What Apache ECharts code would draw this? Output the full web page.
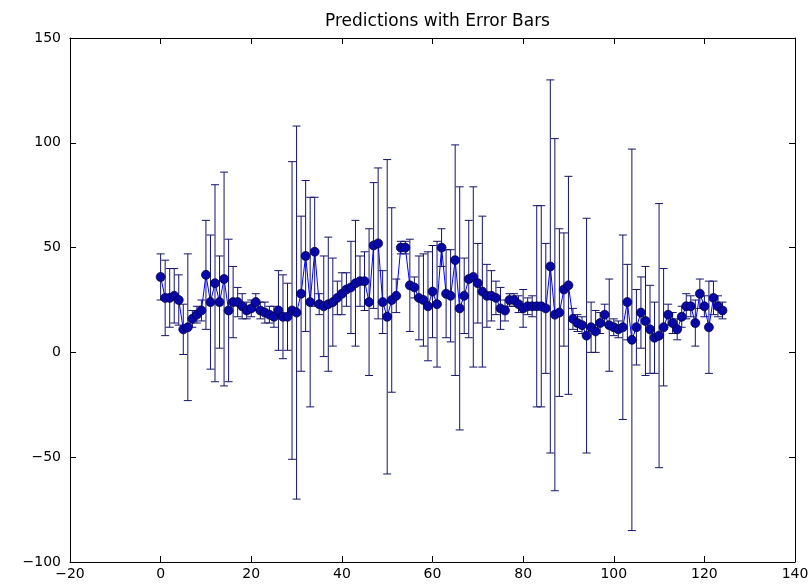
<!DOCTYPE html>
<html><head><meta charset="utf-8">
<script src="https://cdn.jsdelivr.net/npm/echarts@6/dist/echarts.min.js"></script>
<style>html,body{margin:0;padding:0;background:#fff}#c{width:812px;height:588px}</style>
</head><body><div id="c"></div>
<script>
const TITLE = 'Predictions with Error Bars';
const xTicks = [-20, 0, 20, 40, 60, 80, 100, 120, 140];
const yTicks = [-100, -50, 0, 50, 100, 150];

// predicted values, one per sample index 0..124
const predictions = [
  36, 26, 26, 27, 25, 11, 12, 16, 18, 20,
  37, 24, 33, 24, 35, 20, 24, 24, 22, 20,
  21, 24, 20, 19, 18, 17, 20, 17, 17, 20,
  19, 28, 46, 24, 48, 23, 22, 23, 24, 26,
  28, 30, 31, 33, 34, 34, 24, 51, 52, 24,
  17, 25, 27, 50, 50, 32, 31, 26, 25, 22,
  29, 23, 50, 28, 27, 44, 21, 27, 35, 36,
  33, 29, 27, 27, 26, 21, 20, 25, 25, 23,
  21, 22, 22, 22, 22, 21, 41, 18, 19, 30,
  32, 16, 14, 13, 8, 12, 10, 14, 18, 13,
  12, 11, 12, 24, 6, 12, 19, 15, 11, 7,
  8, 12, 18, 14, 11, 17, 22, 22, 14, 28,
  22, 12, 26, 22, 20
];
// half-widths of the error bars
const errors = [
  11, 18, 14, 13, 12, 12, 35, 4, 4, 5,
  26, 32, 47, 22, 51, 34, 17, 7, 6, 4,
  4, 4, 4, 5, 4, 5, 19, 20, 16, 71,
  89, 37, 36, 50, 26, 5, 24, 32, 21, 8,
  10, 8, 22, 30, 12, 14, 35, 30, 36, 15,
  75, 44, 8, 3, 3, 22, 5, 20, 22, 26,
  22, 30, 9, 21, 22, 55, 58, 18, 28, 43,
  19, 36, 15, 12, 8, 10, 5, 3, 3, 4,
  9, 4, 5, 48, 48, 31, 89, 84, 40, 27,
  52, 5, 4, 4, 56, 12, 10, 5, 5, 22,
  4, 4, 44, 18, 91, 18, 17, 26, 21, 17,
  63, 28, 5, 5, 5, 5, 6, 5, 11, 7,
  5, 22, 8, 5, 4
];

const lineData = predictions.map((v, i) => [i, v]);
const errData = predictions.map((v, i) => [i, v - errors[i], v + errors[i]]);

const ERR_COLOR = '#14146a';
const FONT = 'DejaVu Sans';
const minusFmt = v => String(v).replace('-', '\u2212');

const chart = echarts.init(document.getElementById('c'), null, {renderer: 'canvas'});

function axisCommon(show, margin) {
  return {
    axisLine: {show: true, onZero: false, lineStyle: {color: '#000', width: 1}},
    axisTick: {show: true, inside: true, length: 6, lineStyle: {color: '#000', width: 1}},
    splitLine: {show: false},
    axisLabel: {show: show, color: '#000', fontSize: 14, fontFamily: FONT, margin: margin, formatter: minusFmt}
  };
}

const option = {
  animation: false,
  backgroundColor: '#fff',
  title: {
    text: TITLE, left: 432.5, top: 8, textAlign: 'center',
    textStyle: {fontFamily: FONT, fontSize: 17, fontWeight: 'normal', color: '#000'}
  },
  grid: {left: 70, top: 38, width: 725, height: 524},
  xAxis: [
    Object.assign({type: 'value', position: 'bottom', min: xTicks[0], max: xTicks[xTicks.length - 1], interval: 20}, axisCommon(true, 5)),
    Object.assign({type: 'value', position: 'top', min: xTicks[0], max: xTicks[xTicks.length - 1], interval: 20}, axisCommon(false, 5))
  ],
  yAxis: [
    Object.assign({type: 'value', position: 'left', min: yTicks[0], max: yTicks[yTicks.length - 1], interval: 50}, axisCommon(true, 9)),
    Object.assign({type: 'value', position: 'right', min: yTicks[0], max: yTicks[yTicks.length - 1], interval: 50}, axisCommon(false, 9))
  ],
  series: [
    {
      type: 'custom',
      xAxisIndex: 0, yAxisIndex: 0,
      data: errData,
      encode: {x: 0, y: [1, 2]},
      z: 2,
      renderItem: function (params, api) {
        const x = api.value(0), lo = api.value(1), hi = api.value(2);
        const pLo = api.coord([x, lo]);
        const pHi = api.coord([x, hi]);
        const cw = 4;
        const style = {stroke: ERR_COLOR, lineWidth: 1, fill: null};
        return {
          type: 'group',
          children: [
            {type: 'line', shape: {x1: pLo[0], y1: pLo[1], x2: pHi[0], y2: pHi[1]}, style: style},
            {type: 'line', shape: {x1: pLo[0] - cw, y1: pLo[1], x2: pLo[0] + cw, y2: pLo[1]}, style: style},
            {type: 'line', shape: {x1: pHi[0] - cw, y1: pHi[1], x2: pHi[0] + cw, y2: pHi[1]}, style: style}
          ]
        };
      }
    },
    {
      type: 'line',
      xAxisIndex: 0, yAxisIndex: 0,
      data: lineData,
      z: 3,
      showAllSymbol: true,
      symbol: 'circle',
      symbolSize: 9,
      lineStyle: {color: '#0000ff', width: 1},
      itemStyle: {color: '#0808a8', borderColor: '#000038', borderWidth: 0.7},
      emphasis: {disabled: true}
    }
  ]
};
chart.setOption(option);
</script>
</body></html>
